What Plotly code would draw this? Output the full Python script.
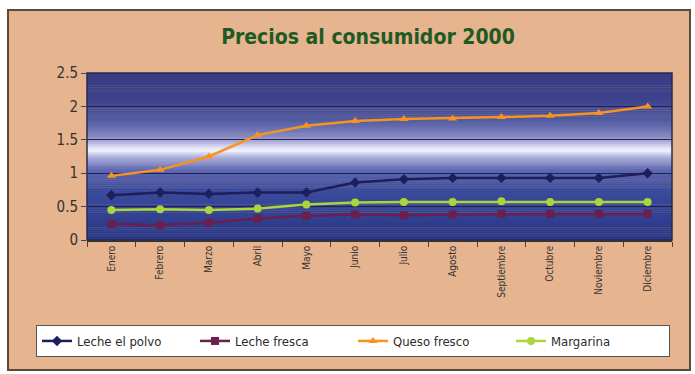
import plotly.graph_objects as go

months = ["Enero", "Febrero", "Marzo", "Abril", "Mayo", "Junio", "Julio",
          "Agosto", "Septiembre", "Octubre", "Noviembre", "Diciembre"]
leche_polvo = [0.67, 0.71, 0.69, 0.71, 0.71, 0.86, 0.91, 0.93, 0.93, 0.93, 0.93, 1.00]
leche_fresca = [0.24, 0.22, 0.26, 0.32, 0.36, 0.38, 0.37, 0.38, 0.39, 0.39, 0.39, 0.39]
queso_fresco = [0.96, 1.05, 1.25, 1.57, 1.71, 1.78, 1.81, 1.82, 1.84, 1.86, 1.90, 2.00]
margarina = [0.45, 0.46, 0.45, 0.47, 0.53, 0.56, 0.57, 0.57, 0.58, 0.57, 0.57, 0.57]
y_ticks = [0, 0.5, 1, 1.5, 2, 2.5]
y_labels = ["0", "0.5", "1", "1.5", "2", "2.5"]

FONT = "DejaVu Sans Condensed, Roboto, sans-serif"
series = [
    ("Leche el polvo", leche_polvo, "#1d1f5c", "diamond"),
    ("Leche fresca", leche_fresca, "#6b1f4e", "square"),
    ("Queso fresco", queso_fresco, "#f7931e", "triangle-up"),
    ("Margarina", margarina, "#a8d63c", "circle"),
]

fig = go.Figure()
for name, vals, col, sym in series:
    fig.add_trace(go.Scatter(
        x=months, y=vals, name=name, mode="lines+markers",
        line=dict(color=col, width=2.5),
        marker=dict(color=col, symbol=sym, size=8),
    ))

# Layout geometry (pixels)
W, H = 695, 374
L, R, T, B = 87, 23, 73, 134
pw, ph = W - L - R, H - T - B

def px_x(x):
    return (x - L) / pw

def px_y(y):
    return (H - B - y) / ph

shapes = []
# outer tan panel with dark border
shapes.append(dict(type="rect", xref="paper", yref="paper",
                   x0=px_x(8), x1=px_x(690), y0=px_y(370), y1=px_y(10),
                   fillcolor="#e6b48e", line=dict(color="#5a4a3a", width=2),
                   layer="below"))

# gradient plot background
stops = [
    (0.0, (40, 55, 135)),
    (0.15, (50, 65, 145)),
    (0.30, (60, 75, 155)),
    (0.42, (95, 105, 180)),
    (0.50, (175, 180, 225)),
    (0.535, (245, 245, 255)),
    (0.56, (215, 215, 240)),
    (0.62, (130, 135, 195)),
    (0.72, (80, 90, 160)),
    (0.85, (60, 65, 140)),
    (1.0, (55, 60, 130)),
]

def interp(t):
    for (t0, c0), (t1, c1) in zip(stops[:-1], stops[1:]):
        if t0 <= t <= t1:
            f = (t - t0) / (t1 - t0) if t1 > t0 else 0
            return tuple(int(round(a + (b - a) * f)) for a, b in zip(c0, c1))
    return stops[-1][1]

N = 80
for i in range(N):
    t0 = i / N
    t1 = (i + 1) / N
    c = interp((t0 + t1) / 2)
    shapes.append(dict(type="rect", xref="paper", yref="paper",
                       x0=0, x1=1, y0=t0, y1=min(1, t1 + 0.002),
                       fillcolor="rgb(%d,%d,%d)" % c, line=dict(width=0),
                       layer="below"))
# plot border
shapes.append(dict(type="rect", xref="paper", yref="paper", x0=0, x1=1, y0=0, y1=1,
                   line=dict(color="#2a2a50", width=1.5), layer="below"))

fig.update_layout(
    width=W, height=H,
    margin=dict(l=L, r=R, t=T, b=B, autoexpand=False),
    paper_bgcolor="white",
    plot_bgcolor="rgba(0,0,0,0)",
    shapes=shapes,
    title=dict(text="<b>Precios al consumidor 2000</b>", x=368 / W, xanchor="center",
               y=1 - 37 / H, yanchor="middle",
               font=dict(family=FONT, size=21, color="#1f5a24")),
    font=dict(family=FONT, color="#2b2b2b"),
    xaxis=dict(
        showgrid=False, tickangle=-90, tickfont=dict(size=10, color="#333"),
        ticks="outside", ticklen=5, tickcolor="#444", tickson="boundaries",
        showline=True, linecolor="#333", linewidth=1.5, zeroline=False,
        range=[-0.5, 11.5],
    ),
    yaxis=dict(
        range=[0, 2.5], tickvals=y_ticks, ticktext=y_labels,
        tickfont=dict(size=15, color="#333"),
        showgrid=True, gridcolor="#22224a", gridwidth=1,
        ticks="outside", ticklen=5, tickcolor="#444",
        zeroline=False, showline=False,
    ),
    legend=dict(
        orientation="h", x=px_x(36), xanchor="left", y=px_y(325), yanchor="top",
        bgcolor="white", bordercolor="#555", borderwidth=1,
        font=dict(family=FONT, size=13, color="#2b2b2b"),
        entrywidth=113, entrywidthmode="pixels",
        itemwidth=30,
    ),
    showlegend=True,
)

fig.write_html("out.html")
